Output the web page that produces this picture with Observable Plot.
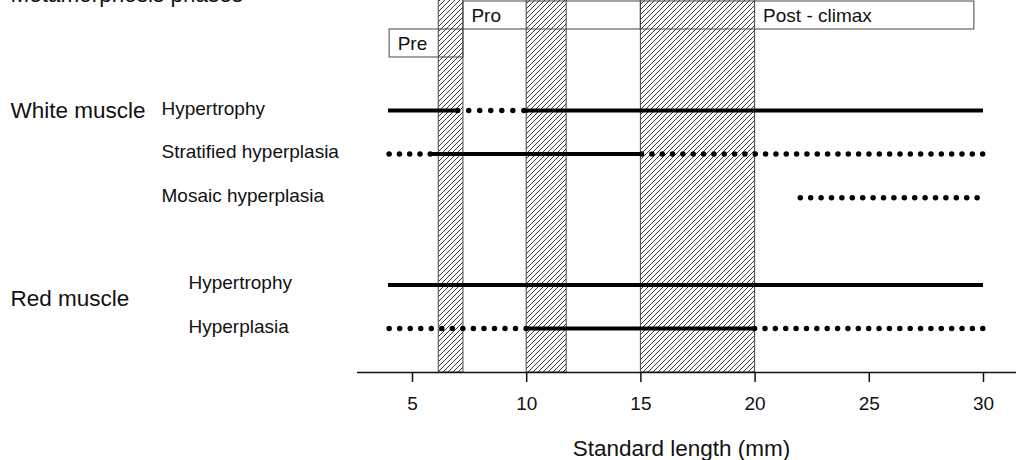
<!DOCTYPE html>
<html><head><meta charset="utf-8">
<script src="https://cdn.jsdelivr.net/npm/d3@7"></script>
<script src="https://cdn.jsdelivr.net/npm/@observablehq/plot@0.6"></script>
<style>
body{margin:0;background:#fff;}
#chart svg{display:block;}
</style>
</head><body><div id="chart"></div>
<script>
// ---- data ----
const rowIds = ["wHyp", "wStrat", "wMosaic", "rHyp", "rHypl"];
const rowNames = ["Hypertrophy", "Stratified hyperplasia", "Mosaic hyperplasia", "Hypertrophy", "Hyperplasia"];
const rowMuscle = ["White muscle", "White muscle", "White muscle", "Red muscle", "Red muscle"];
const groupNames = ["White muscle", "Red muscle"];

const segRow   = ["wHyp", "wHyp", "wHyp", "wStrat", "wStrat", "wStrat", "wMosaic", "rHyp", "rHypl", "rHypl", "rHypl"];
const segStart = [3.95, 7.0, 9.9, 4, 5.8, 15.05, 22, 3.95, 4, 10, 20];
const segEnd   = [7.0, 9.9, 30, 5.8, 15.05, 30, 29.75, 30, 10, 20, 30];
const segType  = ["solid", "dotted", "solid", "dotted", "solid", "dotted", "dotted", "solid", "dotted", "solid", "dotted"];

const phaseNames = ["Pre", "Pro", "Post - climax"];
const phaseStart = [4, 7.23, 15];
const phaseEnd   = [7.23, 15, 29.6];
const phaseLabelFrom = [4, 7.23, 20];

const transStart = [6.15, 10, 15];
const transEnd   = [7.23, 11.75, 20];

const xTicks = [5, 10, 15, 20, 25, 30];
const xTitle = "Standard length (mm)";
const topTitle = "Metamorphosis phases";

// ---- layout ----
const W = 1016, H = 460, mL = 357, mR = 0, mT = 0, mB = 88;
const xDomain = [2.592, 31.445];
const lane = {wHyp: 0, wStrat: 1, wMosaic: 2, rHyp: 4, rHypl: 5};
const groupLane = {"White muscle": 0, "Red muscle": 4.33};
const yTop = -2.523, yAxis = 6.009;
const phaseTier = [1, 0, 0];
const tierTop = [-2.5, -1.858], tierBottom = [-1.858, -1.216];
const dotStep = 10.4;

const rows = rowIds.map((id, i) => ({id, name: rowNames[i], muscle: rowMuscle[i], y: lane[id]}));
const segs = segRow.map((r, i) => ({y: lane[r], x1: segStart[i], x2: segEnd[i], type: segType[i]}));
const phases = phaseNames.map((n, i) => ({
  name: n, x1: phaseStart[i], x2: phaseEnd[i], lx: phaseLabelFrom[i],
  y1: tierTop[phaseTier[i]], y2: tierBottom[phaseTier[i]],
  yc: (tierTop[phaseTier[i]] + tierBottom[phaseTier[i]]) / 2
}));
const trans = transStart.map((s, i) => ({x1: s, x2: transEnd[i]}));
const groups = groupNames.map(g => ({name: g, y: groupLane[g]}));

const font = "'Liberation Sans', Arial, Helvetica, sans-serif";
const ink = "#111";

// dotted segments: fit dot spacing so that a dot lands on both ends
const xs = Plot.scale({x: {domain: xDomain, range: [mL, W - mR]}});
const dottedMarks = segs.filter(d => d.type === "dotted").map(d => {
  const len = Math.abs(xs.apply(d.x2) - xs.apply(d.x1));
  const n = Math.max(1, Math.round(len / dotStep));
  const gap = Math.floor(len / n * 1000) / 1000 - 0.01;
  return Plot.ruleY([d], {y: "y", x1: "x1", x2: "x2", stroke: "#000", strokeWidth: 5.5,
    strokeLinecap: "round", strokeDasharray: `0 ${gap.toFixed(3)}`});
});

const plot = Plot.plot({
  width: W,
  height: H,
  marginLeft: mL,
  marginRight: mR,
  marginTop: mT,
  marginBottom: mB,
  style: {fontFamily: font, color: ink, background: "#fff"},
  x: {domain: xDomain},
  y: {domain: [yTop, yAxis], reverse: true, axis: null},
  marks: [
    Plot.rect(trans, {x1: "x1", x2: "x2", y1: yTop - 0.2, y2: yAxis, fill: "url(#hatch)", stroke: "#444", strokeWidth: 1}),
    Plot.rect(phases, {x1: "x1", x2: "x2", y1: "y1", y2: "y2", fill: "none", stroke: "#444", strokeWidth: 1}),
    Plot.text(phases, {x: "lx", y: "yc", text: "name", dx: 8, textAnchor: "start", fontSize: 19, fill: ink}),
    Plot.ruleY(segs.filter(d => d.type === "solid"), {y: "y", x1: "x1", x2: "x2", stroke: "#000", strokeWidth: 4}),
    ...dottedMarks,
    Plot.text(rows.filter(d => d.muscle === "White muscle"), {y: "y", text: "name", frameAnchor: "left", dx: -196, dy: -2, textAnchor: "start", fontSize: 19, fill: ink}),
    Plot.text(rows.filter(d => d.muscle === "Red muscle"), {y: "y", text: "name", frameAnchor: "left", dx: -169, dy: -2, textAnchor: "start", fontSize: 19, fill: ink}),
    Plot.text(groups, {y: "y", text: "name", frameAnchor: "left", dx: -347, textAnchor: "start", fontSize: 22.5, fill: ink}),
    Plot.text([topTitle], {frameAnchor: "top-left", dx: -347, dy: 1, lineAnchor: "bottom", textAnchor: "start", fontSize: 22.5, fill: ink}),
    Plot.ruleY([yAxis], {stroke: ink, strokeWidth: 1.5}),
    Plot.axisX({ticks: xTicks, tickSize: 10, tickPadding: 14, fontSize: 19, label: null, stroke: ink, strokeWidth: 1.5, fill: ink}),
    Plot.text([xTitle], {frameAnchor: "bottom", dx: -5.5, dy: 83, lineAnchor: "bottom", fontSize: 22.5, fill: ink})
  ]
});

d3.select(plot).insert("defs", ":first-child").html(
  '<pattern id="hatch" patternUnits="userSpaceOnUse" width="5" height="5">' +
  '<rect width="5" height="5" fill="#fff"/>' +
  '<path d="M-1,1 l2,-2 M0,5 l5,-5 M4,6 l2,-2" stroke="#222" stroke-width="0.9"/>' +
  '</pattern>'
);
document.getElementById("chart").appendChild(plot);
</script>
</body></html>
